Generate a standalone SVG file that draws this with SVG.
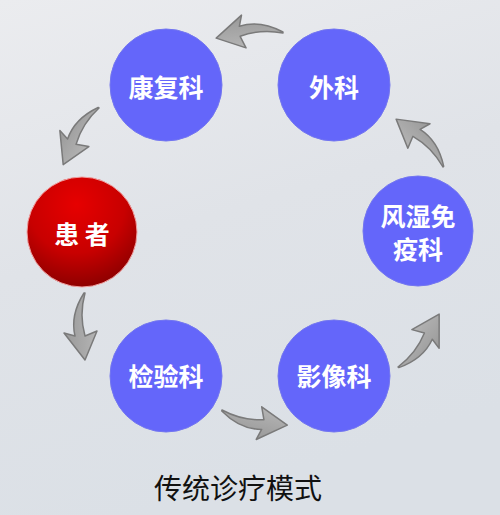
<svg xmlns="http://www.w3.org/2000/svg" width="500" height="515" viewBox="0 0 500 515">
  <defs>
    <linearGradient id="bg" x1="0" y1="0" x2="0.3" y2="1">
      <stop offset="0" stop-color="#ebecef"/>
      <stop offset="0.5" stop-color="#e0e3e8"/>
      <stop offset="1" stop-color="#dbe0e6"/>
    </linearGradient>
    <radialGradient id="red" cx="0.45" cy="0.25" r="0.8">
      <stop offset="0" stop-color="#e60000"/>
      <stop offset="0.55" stop-color="#c80000"/>
      <stop offset="1" stop-color="#850000"/>
    </radialGradient>
    <linearGradient id="arrowFill" x1="0" y1="0" x2="0" y2="1">
      <stop offset="0" stop-color="#b4b4b4"/>
      <stop offset="1" stop-color="#999999"/>
    </linearGradient>
    <path id="arrow" d="M0,0 Q22,6 43,0 L38,-12 L67,0 L40,21 L43,10 Q22,15 0,1 Z"/>
  </defs>
  <style>
    .node-blue { fill: #6466fa; stroke: #7376f0; stroke-width: 1; }
    .node-red { fill: url(#red); stroke: #f0a0a0; stroke-width: 1; }
    .label { font-family: "Noto Sans CJK SC", "Noto Sans", sans-serif; font-weight: 700; font-size: 25px; fill: #ffffff; text-anchor: middle; }
    .title { font-family: "Noto Sans CJK SC", "Noto Sans", sans-serif; font-weight: 400; font-size: 28px; fill: #111111; text-anchor: middle; }
    .arr { fill: url(#arrowFill); stroke: #7a7a7a; stroke-width: 1.5; stroke-linejoin: round; }
  </style>
  <rect x="0" y="0" width="500" height="515" fill="url(#bg)"/>

  <g id="connectors">
    <use href="#arrow" class="arr" transform="translate(283,33) rotate(175.6)"/>
    <use href="#arrow" class="arr" transform="translate(99,108) rotate(122.3)"/>
    <use href="#arrow" class="arr" transform="translate(85,293) rotate(90)"/>
    <use href="#arrow" class="arr" transform="translate(222,410) rotate(13)"/>
    <use href="#arrow" class="arr" transform="translate(398,367) rotate(-52.1)"/>
    <use href="#arrow" class="arr" transform="translate(443,167) rotate(-134.4)"/>
  </g>

  <g id="node-kangfu">
    <circle class="node-blue" cx="166" cy="85" r="56"/>
    <text class="label" x="166" y="97">康复科</text>
  </g>
  <g id="node-waike">
    <circle class="node-blue" cx="334" cy="85" r="56"/>
    <text class="label" x="334" y="97">外科</text>
  </g>
  <g id="node-huanzhe">
    <circle class="node-red" cx="82" cy="232" r="55"/>
    <text class="label" x="82" y="244">患 者</text>
  </g>
  <g id="node-fengshi">
    <circle class="node-blue" cx="418" cy="231" r="55"/>
    <text class="label" x="418" y="226">风湿免</text>
    <text class="label" x="418" y="259">疫科</text>
  </g>
  <g id="node-jianyan">
    <circle class="node-blue" cx="166" cy="376" r="56"/>
    <text class="label" x="166" y="386">检验科</text>
  </g>
  <g id="node-yingxiang">
    <circle class="node-blue" cx="334" cy="376" r="56"/>
    <text class="label" x="334" y="386">影像科</text>
  </g>

  <text class="title" x="238" y="499">传统诊疗模式</text>
</svg>
